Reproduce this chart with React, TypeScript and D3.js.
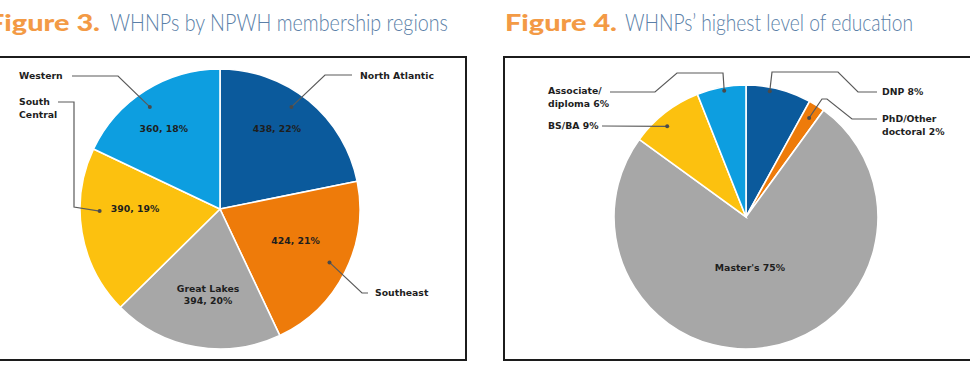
import * as d3 from "d3";

const regions = ["North Atlantic", "Southeast", "Great Lakes", "South Central", "Western"];
const regionCounts = [438, 424, 394, 390, 360];
const regionPct = [22, 21, 20, 19, 18];

const eduLevels = ["DNP", "PhD/Other doctoral", "Master's", "BS/BA", "Associate/diploma"];
const eduPct = [8, 2, 75, 9, 6];

const colors = ["#0b5a9c", "#ee7b0a", "#a7a7a7", "#fcc10f", "#0d9ee0"];

const W = 970;
const H = 367;
const labelFont = "'DejaVu Sans', Verdana, sans-serif";
const titleFont = "Lato, 'Open Sans', sans-serif";

// chart geometry
const left = { cx: 220, cy: 209, r: 140 };
const right = { cx: 746, cy: 217, r: 132 };

// where the value labels sit inside the left pie (angle in degrees, distance px)
const regionValuePos = [
  { a: 35.5, d: 98 },
  { a: 112.8, d: 82 },
  { a: 188, d: 86 },
  { a: 270, d: 85 },
  { a: 325, d: 98 },
];

// callout leaders: dot on the slice, then elbow points to the label
const regionCallouts = [
  { i: 0, a: 35, f: 0.89, path: [[325, 75], [352, 75]], tx: 360, ty: 76, lines: ["North Atlantic"] },
  { i: 1, a: 116, f: 0.87, path: [[362, 293], [368, 293]], tx: 375, ty: 293, lines: ["Southeast"] },
  { i: 3, a: 269, f: 0.86, path: [[74, 207], [74, 102], [58, 102]], tx: 19, ty: 102, lines: ["South", "Central"] },
  { i: 4, a: 325.5, f: 0.885, path: [[118, 76], [72, 76]], tx: 19, ty: 76, lines: ["Western"] },
];

const eduCallouts = [
  { i: 4, a: -9.8, f: 0.97, path: [[723, 73], [677, 73], [655, 92], [610, 92]], tx: 548, ty: 91, lines: ["Associate/", "diploma 6%"] },
  { i: 3, a: -41, f: 0.91, path: [[602, 126]], tx: 548, ty: 126, lines: ["BS/BA 9%"] },
  { i: 0, a: 10.7, f: 0.97, path: [[772, 72], [838, 72], [858, 92], [877, 92]], tx: 882, ty: 92, lines: ["DNP 8%"] },
  { i: 1, a: 32.5, f: 0.89, path: [[822, 99], [827, 99], [852, 119], [877, 119]], tx: 882, ty: 119, lines: ["PhD/Other", "doctoral 2%"] },
];

const polar = (c: { cx: number; cy: number }, deg: number, d: number): [number, number] => {
  const a = (deg * Math.PI) / 180;
  return [c.cx + d * Math.sin(a), c.cy - d * Math.cos(a)];
};

function Callout({ c, item }: any) {
  const dot = polar(c, item.a, c.r * item.f);
  const pts = [dot, ...item.path];
  return (
    <g>
      <path d={d3.line()(pts as [number, number][]) || ""} fill="none" stroke="#5a5a5a" strokeWidth={1.2} />
      <circle cx={dot[0]} cy={dot[1]} r={2} fill="#4a4a4a" />
      <text x={item.tx} y={item.ty} fontFamily={labelFont} fontWeight="bold" fontSize={9.3} fill="#1e1e1e" dy="0.35em">
        {item.lines.map((l: string, k: number) => (
          <tspan key={k} x={item.tx} dy={k === 0 ? "0.35em" : 13}>
            {l}
          </tspan>
        ))}
      </text>
    </g>
  );
}

export default function App() {
  const pie = d3.pie<number>().sort(null).value((v) => v);

  const regionArcs = pie(regionCounts);
  const arcL = d3.arc<d3.PieArcDatum<number>>().innerRadius(0).outerRadius(left.r);

  const eduArcs = pie(eduPct);
  const arcR = d3.arc<d3.PieArcDatum<number>>().innerRadius(0).outerRadius(right.r);

  return (
    <svg width={W} height={H} style={{ position: "absolute", left: 0, top: 0, background: "#fff" }}>
      {/* titles */}
      <text x={-12} y={31} fontFamily={titleFont} fontWeight={900} fontSize={23} fill="#f39a45" textLength={112} lengthAdjust="spacingAndGlyphs">
        Figure 3.
      </text>
      <text x={110} y={31} fontFamily={titleFont} fontWeight={300} fontSize={23} fill="#5b7fa8" textLength={338} lengthAdjust="spacingAndGlyphs">
        WHNPs by NPWH membership regions
      </text>
      <text x={505} y={31} fontFamily={titleFont} fontWeight={900} fontSize={23} fill="#f39a45" textLength={112} lengthAdjust="spacingAndGlyphs">
        Figure 4.
      </text>
      <text x={625} y={31} fontFamily={titleFont} fontWeight={300} fontSize={23} fill="#5b7fa8" textLength={288} lengthAdjust="spacingAndGlyphs">
        WHNPs’ highest level of education
      </text>

      {/* frames */}
      <rect x={-10} y={57} width={476} height={303} fill="none" stroke="#1c1c1c" strokeWidth={2} />
      <rect x={504} y={57} width={480} height={303} fill="none" stroke="#1c1c1c" strokeWidth={2} />

      {/* Figure 3 pie */}
      <g transform={`translate(${left.cx},${left.cy})`}>
        {regionArcs.map((a, i) => (
          <path key={regions[i]} d={arcL(a) || ""} fill={colors[i]} stroke="#fff" strokeWidth={1.6} strokeLinejoin="round" />
        ))}
      </g>
      {regionArcs.map((a, i) => {
        const [x, y] = polar(left, regionValuePos[i].a, regionValuePos[i].d);
        const val = `${regionCounts[i]}, ${regionPct[i]}%`;
        const lines = regions[i] === "Great Lakes" ? [regions[i], val] : [val];
        return (
          <text key={i} x={x} y={y} textAnchor="middle" fontFamily={labelFont} fontWeight="bold" fontSize={9.3} fill="#1e1e1e">
            {lines.map((l, k) => (
              <tspan key={k} x={x} dy={k === 0 ? (lines.length > 1 ? "-0.25em" : "0.35em") : 12}>
                {l}
              </tspan>
            ))}
          </text>
        );
      })}
      {regionCallouts.map((c, k) => (
        <Callout key={k} c={left} item={c} />
      ))}

      {/* Figure 4 pie */}
      <g transform={`translate(${right.cx},${right.cy})`}>
        {eduArcs.map((a, i) => (
          <path key={eduLevels[i]} d={arcR(a) || ""} fill={colors[i]} stroke="#fff" strokeWidth={1.6} />
        ))}
      </g>
      <text x={right.cx + 4} y={right.cy + 51} textAnchor="middle" fontFamily={labelFont} fontWeight="bold" fontSize={9.3} fill="#1e1e1e" dy="0.35em">
        {`${eduLevels[2]} ${eduPct[2]}%`}
      </text>
      {eduCallouts.map((c, k) => (
        <Callout key={k} c={right} item={c} />
      ))}
    </svg>
  );
}
